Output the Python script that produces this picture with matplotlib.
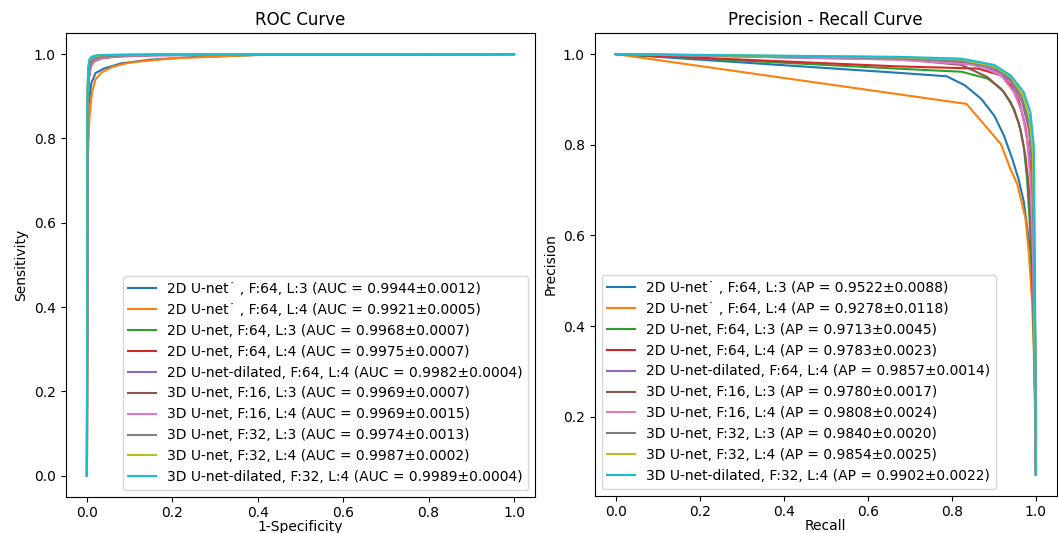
import matplotlib
matplotlib.use("Agg")
import matplotlib.pyplot as plt

# model labels
models = [
    "2D U-net\u02d9 , F:64, L:3",
    "2D U-net\u02d9 , F:64, L:4",
    "2D U-net, F:64, L:3",
    "2D U-net, F:64, L:4",
    "2D U-net-dilated, F:64, L:4",
    "3D U-net, F:16, L:3",
    "3D U-net, F:16, L:4",
    "3D U-net, F:32, L:3",
    "3D U-net, F:32, L:4",
    "3D U-net-dilated, F:32, L:4",
]
auc = ["0.9944±0.0012", "0.9921±0.0005", "0.9968±0.0007", "0.9975±0.0007", "0.9982±0.0004",
       "0.9969±0.0007", "0.9969±0.0015", "0.9974±0.0013", "0.9987±0.0002", "0.9989±0.0004"]
ap = ["0.9522±0.0088", "0.9278±0.0118", "0.9713±0.0045", "0.9783±0.0023", "0.9857±0.0014",
      "0.9780±0.0017", "0.9808±0.0024", "0.9840±0.0020", "0.9854±0.0025", "0.9902±0.0022"]

# ROC curves (1-specificity, sensitivity)
roc_fpr = [
    [0, 0.001, 0.004, 0.01, 0.02, 0.04, 0.08, 0.15, 0.25, 0.4, 1.0],
    [0, 0.002, 0.006, 0.012, 0.02, 0.035, 0.06, 0.1, 0.2, 0.4, 1.0],
    [0, 0.001, 0.004, 0.008, 0.015, 0.03, 0.06, 0.15, 0.4, 1.0],
    [0, 0.001, 0.004, 0.008, 0.015, 0.03, 0.06, 0.15, 0.4, 1.0],
    [0, 0.001, 0.003, 0.007, 0.013, 0.025, 0.05, 0.15, 0.4, 1.0],
    [0, 0.001, 0.004, 0.009, 0.017, 0.035, 0.07, 0.15, 0.4, 1.0],
    [0, 0.001, 0.004, 0.009, 0.017, 0.035, 0.07, 0.15, 0.4, 1.0],
    [0, 0.001, 0.004, 0.008, 0.015, 0.03, 0.06, 0.15, 0.4, 1.0],
    [0, 0.001, 0.003, 0.006, 0.012, 0.025, 0.05, 0.15, 0.4, 1.0],
    [0, 0.001, 0.003, 0.006, 0.011, 0.022, 0.05, 0.15, 0.4, 1.0],
]
roc_tpr = [
    [0, 0.80, 0.88, 0.93, 0.955, 0.966, 0.978, 0.987, 0.993, 0.998, 1.0],
    [0, 0.75, 0.85, 0.91, 0.94, 0.957, 0.97, 0.98, 0.99, 0.998, 1.0],
    [0, 0.85, 0.94, 0.975, 0.987, 0.993, 0.996, 0.998, 0.999, 1.0],
    [0, 0.86, 0.95, 0.978, 0.988, 0.994, 0.997, 0.998, 0.999, 1.0],
    [0, 0.88, 0.96, 0.983, 0.992, 0.996, 0.998, 0.999, 0.9995, 1.0],
    [0, 0.85, 0.94, 0.97, 0.983, 0.99, 0.994, 0.997, 0.999, 1.0],
    [0, 0.85, 0.94, 0.972, 0.985, 0.991, 0.995, 0.997, 0.999, 1.0],
    [0, 0.86, 0.95, 0.978, 0.988, 0.993, 0.996, 0.998, 0.999, 1.0],
    [0, 0.89, 0.965, 0.986, 0.993, 0.996, 0.998, 0.999, 0.9995, 1.0],
    [0, 0.90, 0.97, 0.988, 0.994, 0.997, 0.998, 0.999, 0.9995, 1.0],
]

# precision-recall curves (recall, precision)
pr_rec = [
    [0, 0.667, 0.788, 0.831, 0.870, 0.901, 0.924, 0.944, 0.959, 0.971, 0.987, 0.995, 0.998, 1.0],
    [0, 0.835, 0.917, 0.940, 0.956, 0.975, 0.983, 0.991, 0.995, 0.998, 1.0],
    [0, 0.667, 0.823, 0.885, 0.917, 0.940, 0.959, 0.971, 0.979, 0.987, 0.993, 0.997, 1.0],
    [0, 0.667, 0.862, 0.917, 0.940, 0.960, 0.975, 0.985, 0.991, 0.996, 0.999, 1.0],
    [0, 0.667, 0.823, 0.901, 0.940, 0.967, 0.983, 0.991, 0.996, 0.999, 1.0],
    [0, 0.667, 0.823, 0.885, 0.924, 0.948, 0.963, 0.975, 0.983, 0.989, 0.994, 0.998, 1.0],
    [0, 0.667, 0.862, 0.917, 0.948, 0.967, 0.979, 0.987, 0.993, 0.997, 1.0],
    [0, 0.667, 0.823, 0.901, 0.940, 0.967, 0.983, 0.991, 0.996, 0.999, 1.0],
    [0, 0.667, 0.823, 0.901, 0.940, 0.969, 0.985, 0.993, 0.997, 0.999, 1.0],
    [0, 0.667, 0.823, 0.901, 0.940, 0.971, 0.987, 0.995, 0.997, 0.999, 1.0],
]
pr_prec = [
    [1.0, 0.959, 0.951, 0.931, 0.901, 0.864, 0.820, 0.768, 0.723, 0.675, 0.563, 0.452, 0.30, 0.072],
    [1.0, 0.890, 0.801, 0.745, 0.712, 0.638, 0.563, 0.452, 0.341, 0.20, 0.072],
    [1.0, 0.968, 0.961, 0.946, 0.924, 0.894, 0.849, 0.797, 0.723, 0.60, 0.45, 0.30, 0.072],
    [1.0, 0.973, 0.968, 0.953, 0.931, 0.895, 0.840, 0.770, 0.680, 0.50, 0.30, 0.072],
    [1.0, 0.988, 0.982, 0.965, 0.940, 0.895, 0.835, 0.750, 0.55, 0.30, 0.072],
    [1.0, 0.990, 0.976, 0.949, 0.916, 0.879, 0.835, 0.775, 0.708, 0.60, 0.45, 0.25, 0.072],
    [1.0, 0.988, 0.976, 0.953, 0.916, 0.871, 0.812, 0.723, 0.55, 0.30, 0.072],
    [1.0, 0.991, 0.985, 0.970, 0.945, 0.905, 0.850, 0.770, 0.55, 0.30, 0.072],
    [1.0, 0.993, 0.988, 0.973, 0.950, 0.910, 0.860, 0.780, 0.55, 0.30, 0.072],
    [1.0, 0.994, 0.990, 0.976, 0.953, 0.916, 0.871, 0.797, 0.60, 0.30, 0.072],
]

fig = plt.figure(figsize=(10.58, 5.33), dpi=100)
ax1 = fig.add_axes([0.062, 0.068, 0.444, 0.870])
ax2 = fig.add_axes([0.562, 0.070, 0.437, 0.868])

for i in range(len(models)):
    ax1.plot(roc_fpr[i], roc_tpr[i], lw=1.5, label=f"{models[i]} (AUC = {auc[i]})")
    ax2.plot(pr_rec[i], pr_prec[i], lw=1.5, label=f"{models[i]} (AP = {ap[i]})")

ax1.set_title("ROC Curve")
ax1.set_xlabel("1-Specificity", labelpad=0)
ax1.set_ylabel("Sensitivity")
ax1.legend(loc="lower right")

ax2.set_title("Precision - Recall Curve")
ax2.set_xlabel("Recall", labelpad=0)
ax2.set_ylabel("Precision")
ax2.legend(loc="lower left")

fig.savefig("out.png", dpi=100)
